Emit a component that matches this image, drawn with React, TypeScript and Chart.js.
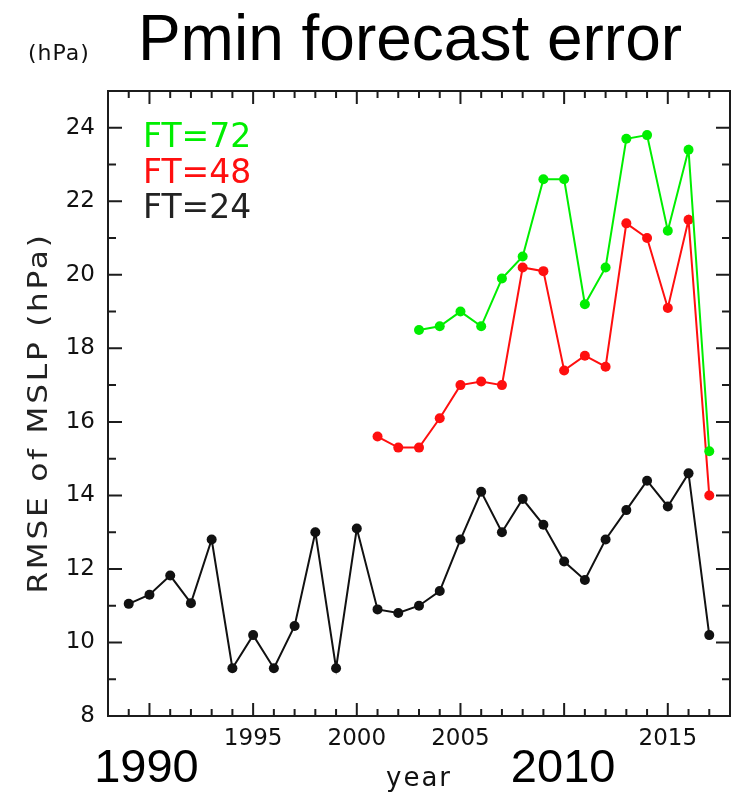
import { useEffect, useRef } from 'react';
import { Chart, registerables } from 'chart.js';

Chart.register(...registerables);

// Forecast-time series of RMSE of central pressure (hPa) by year
const yearsFT24 = [1989, 1990, 1991, 1992, 1993, 1994, 1995, 1996, 1997, 1998, 1999, 2000, 2001, 2002, 2003, 2004, 2005, 2006, 2007, 2008, 2009, 2010, 2011, 2012, 2013, 2014, 2015, 2016, 2017];
const rmseFT24 = [11.05, 11.3, 11.82, 11.07, 12.8, 9.3, 10.2, 9.3, 10.45, 13.0, 9.3, 13.1, 10.9, 10.8, 11.0, 11.4, 12.8, 14.1, 13.0, 13.9, 13.2, 12.2, 11.7, 12.8, 13.6, 14.4, 13.7, 14.6, 10.2];

const yearsFT48 = [2001, 2002, 2003, 2004, 2005, 2006, 2007, 2008, 2009, 2010, 2011, 2012, 2013, 2014, 2015, 2016, 2017];
const rmseFT48 = [15.6, 15.3, 15.3, 16.1, 17.0, 17.1, 17.0, 20.2, 20.1, 17.4, 17.8, 17.5, 21.4, 21.0, 19.1, 21.5, 14.0];

const yearsFT72 = [2003, 2004, 2005, 2006, 2007, 2008, 2009, 2010, 2011, 2012, 2013, 2014, 2015, 2016, 2017];
const rmseFT72 = [18.5, 18.6, 19.0, 18.6, 19.9, 20.5, 22.6, 22.6, 19.2, 20.2, 23.7, 23.8, 21.2, 23.4, 15.2];

// Axis ticks and labels
const xMajorTicks = [1990, 1995, 2000, 2005, 2010, 2015];
const bigYearLabels = [1990, 2010];
const bigYearOffsets = [-3, -1];
const yMajorTicks = [8, 10, 12, 14, 16, 18, 20, 22, 24];

const legendItems = ['FT=72', 'FT=48', 'FT=24'];
const legendColors = ['#00ee00', '#ff0f0f', '#222222'];

const AXIS_COLOR = '#1c1c1c';
const THIN_FONT = "'DejaVu Sans'";

const toPoints = (xs: number[], ys: number[]) => xs.map((x, i) => ({ x, y: ys[i] }));

const frameAndTextPlugin = {
  id: 'frameAndText',
  beforeDatasetsDraw(chart: any) {
    const { ctx, chartArea: a, scales } = chart;
    const xs = scales.x;
    const ys = scales.y;
    ctx.save();
    ctx.strokeStyle = AXIS_COLOR;
    ctx.lineWidth = 2;
    ctx.strokeRect(a.left, a.top, a.right - a.left, a.bottom - a.top);
    ctx.beginPath();
    // inward ticks: one per year, longer every five years
    for (let yr = Math.ceil(xs.min); yr <= xs.max; yr++) {
      const px = xs.getPixelForValue(yr);
      const len = yr % 5 === 0 ? 13 : 7;
      ctx.moveTo(px, a.bottom);
      ctx.lineTo(px, a.bottom - len);
      ctx.moveTo(px, a.top);
      ctx.lineTo(px, a.top + len);
    }
    // inward ticks: one per hPa, longer every 2 hPa
    for (let v = Math.ceil(ys.min); v <= ys.max; v++) {
      const py = ys.getPixelForValue(v);
      const len = v % 2 === 0 ? 14 : 8;
      ctx.moveTo(a.left, py);
      ctx.lineTo(a.left + len, py);
      ctx.moveTo(a.right, py);
      ctx.lineTo(a.right - len, py);
    }
    ctx.stroke();
    ctx.restore();
  },
  afterDraw(chart: any) {
    const { ctx, chartArea: a, scales } = chart;
    const xs = scales.x;
    ctx.save();
    ctx.fillStyle = '#000';
    ctx.textBaseline = 'alphabetic';

    // title
    ctx.font = "64px 'Liberation Sans'";
    ctx.textAlign = 'center';
    ctx.fillText('Pmin forecast error', 410, 60);

    // unit note
    ctx.font = `22px ${THIN_FONT}`;
    ctx.textAlign = 'left';
    (ctx as any).letterSpacing = '1px';
    ctx.fillStyle = '#111';
    ctx.fillText('(hPa)', 28, 60);

    // y axis title, slightly stretched along its run
    ctx.save();
    ctx.translate(47, 413);
    ctx.rotate(-Math.PI / 2);
    ctx.scale(1.2, 1);
    ctx.font = `26px ${THIN_FONT}`;
    (ctx as any).letterSpacing = '2.3px';
    ctx.textAlign = 'center';
    ctx.fillStyle = '#222';
    ctx.fillText('RMSE of MSLP (hPa)', 0, 0);
    ctx.restore();

    // x axis title
    ctx.font = `26px ${THIN_FONT}`;
    (ctx as any).letterSpacing = '2px';
    ctx.textAlign = 'center';
    ctx.fillStyle = '#111';
    ctx.fillText('year', (a.left + a.right) / 2, 786);

    // large decade labels
    (ctx as any).letterSpacing = '0px';
    ctx.font = "47px 'Liberation Sans'";
    ctx.fillStyle = '#000';
    bigYearLabels.forEach((yr, i) => {
      ctx.fillText(String(yr), xs.getPixelForValue(yr) + bigYearOffsets[i], 782);
    });

    // legend
    ctx.font = `33px ${THIN_FONT}`;
    ctx.textAlign = 'left';
    legendItems.forEach((label, i) => {
      ctx.fillStyle = legendColors[i];
      ctx.fillText(label, a.left + 35, 147 + i * 35.5);
    });
    ctx.restore();
  },
};

export default function App() {
  const ref = useRef<HTMLCanvasElement>(null);

  useEffect(() => {
    document.body.style.margin = '0';
    const canvas = ref.current;
    if (!canvas) return;

    const lineStyle = (color: string) => ({
      borderColor: color,
      backgroundColor: color,
      pointBackgroundColor: color,
      pointBorderColor: color,
      pointBorderWidth: 0,
      pointRadius: 5,
      borderWidth: 2,
      tension: 0,
      fill: false,
    });

    const chart = new Chart(canvas, {
      type: 'line',
      data: {
        datasets: [
          { label: 'FT=72', data: toPoints(yearsFT72, rmseFT72), ...lineStyle('#00ee00') },
          { label: 'FT=48', data: toPoints(yearsFT48, rmseFT48), ...lineStyle('#ff0f0f') },
          { label: 'FT=24', data: toPoints(yearsFT24, rmseFT24), ...lineStyle('#111111') },
        ],
      },
      options: {
        animation: false,
        responsive: false,
        devicePixelRatio: 1,
        layout: { padding: { left: 0, right: 3, top: 91, bottom: 0 } },
        plugins: {
          legend: { display: false },
          title: { display: false },
          tooltip: { enabled: false },
        },
        scales: {
          x: {
            type: 'linear',
            min: 1988,
            max: 2018,
            grid: { display: false, drawTicks: false },
            border: { display: false },
            afterBuildTicks: (scale: any) => {
              scale.ticks = xMajorTicks.map((value) => ({ value }));
            },
            afterFit: (scale: any) => {
              scale.height = 79;
            },
            ticks: {
              autoSkip: false,
              maxRotation: 0,
              padding: 9,
              color: '#111',
              font: { family: 'DejaVu Sans', size: 23 },
              callback: (value: any) => (bigYearLabels.includes(Number(value)) ? '' : String(value)),
            },
          },
          y: {
            type: 'linear',
            min: 8,
            max: 25,
            grid: { display: false, drawTicks: false },
            border: { display: false },
            afterBuildTicks: (scale: any) => {
              scale.ticks = yMajorTicks.map((value) => ({ value }));
            },
            afterFit: (scale: any) => {
              scale.width = 108;
            },
            ticks: {
              padding: 13,
              color: '#111',
              font: { family: 'DejaVu Sans', size: 23 },
              callback: (value: any) => String(value),
            },
          },
        },
      },
      plugins: [frameAndTextPlugin],
    });

    return () => chart.destroy();
  }, []);

  return (
    <canvas
      ref={ref}
      width={735}
      height={795}
      style={{ display: 'block', width: 735, height: 795 }}
    />
  );
}
